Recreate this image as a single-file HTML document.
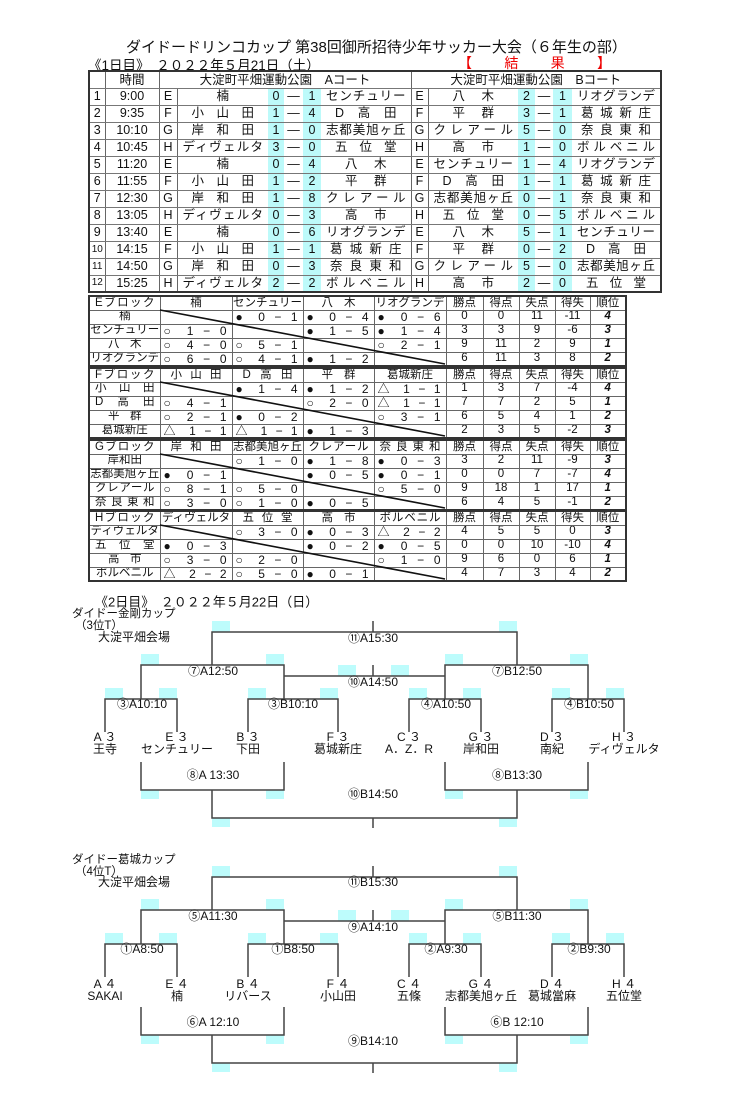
<!DOCTYPE html>
<html><head><meta charset="utf-8">
<style>
*{margin:0;padding:0;box-sizing:border-box}
body{width:751px;height:1111px;background:#fff;position:relative;overflow:hidden;font-family:"Liberation Sans","Noto Sans CJK JP",sans-serif;color:#111}
.a{position:absolute;white-space:nowrap}
table{position:absolute;border-collapse:collapse;table-layout:fixed;border:2px solid #333}
td{font-size:12.5px;line-height:1;text-align:center;white-space:nowrap;overflow:hidden;padding:0;border-bottom:1px solid #777}
.s td{height:17px}
.bl{border-left:1px solid #666}
.c{background:#bdfafa}
.d{text-align:justify;text-align-last:justify}
.p2{padding:0 24px}.p3{padding:0 14px}.p4{padding:0 9px}.p6{padding:0 5px}
.b td{height:14px;font-size:11.5px;border:1px solid #666}
.b td.p2{padding:0 18px}.b td.p3{padding:0 10px}.b td.p4{padding:0 5px}
.b td.r{padding:0 5px 0 3px;text-align:justify;text-align-last:justify;white-space:normal;font-size:12px}
.rk{font-weight:bold;font-style:italic;font-size:13px}
svg{position:absolute;left:0;top:0}
</style></head><body>
<div class="a" style="left:126px;top:36px;font-size:15px">ダイドードリンコカップ 第38回御所招待少年サッカー大会（６年生の部）</div>
<div class="a" style="left:88px;top:54px;font-size:13.5px">《1日目》　２０２２年５月21日（土）</div>
<div class="a" style="left:458px;top:53px;font-size:14px;color:#e00;width:153px;display:flex;justify-content:space-between"><span>【</span><span>結</span><span>果</span><span>】</span></div>

<table class="s" style="left:88px;top:70px;width:572px">
<colgroup><col style="width:16px"><col style="width:54px"><col style="width:18px"><col style="width:91px"><col style="width:16px"><col style="width:19px"><col style="width:18px"><col style="width:90px"><col style="width:17px"><col style="width:90px"><col style="width:17px"><col style="width:18px"><col style="width:19px"><col style="width:89px"></colgroup>
<tr><td></td><td class="bl">時間</td><td class="bl" colspan="6">大淀町平畑運動公園　Aコート</td><td class="bl" colspan="6">大淀町平畑運動公園　Bコート</td></tr>
<tr><td>1</td><td class="bl">9:00</td><td class="bl">E</td><td class="bl">楠</td><td class="c">0</td><td>—</td><td class="c">1</td><td class="d p6">センチュリー</td><td class="bl">E</td><td class="bl d p2">八木</td><td class="c">2</td><td>—</td><td class="c">1</td><td class="d p6">リオグランデ</td></tr>
<tr><td>2</td><td class="bl">9:35</td><td class="bl">F</td><td class="bl d p3">小山田</td><td class="c">1</td><td>—</td><td class="c">4</td><td class="d p3">D高田</td><td class="bl">F</td><td class="bl d p2">平群</td><td class="c">3</td><td>—</td><td class="c">1</td><td class="d p4">葛城新庄</td></tr>
<tr><td>3</td><td class="bl">10:10</td><td class="bl">G</td><td class="bl d p3">岸和田</td><td class="c">1</td><td>—</td><td class="c">0</td><td class="d p6">志都美旭ヶ丘</td><td class="bl">G</td><td class="bl d p6">クレアール</td><td class="c">5</td><td>—</td><td class="c">0</td><td class="d p4">奈良東和</td></tr>
<tr><td>4</td><td class="bl">10:45</td><td class="bl">H</td><td class="bl d p6">ディヴェルタ</td><td class="c">3</td><td>—</td><td class="c">0</td><td class="d p3">五位堂</td><td class="bl">H</td><td class="bl d p2">高市</td><td class="c">1</td><td>—</td><td class="c">0</td><td class="d p6">ボルベニル</td></tr>
<tr><td>5</td><td class="bl">11:20</td><td class="bl">E</td><td class="bl">楠</td><td class="c">0</td><td>—</td><td class="c">4</td><td class="d p2">八木</td><td class="bl">E</td><td class="bl d p6">センチュリー</td><td class="c">1</td><td>—</td><td class="c">4</td><td class="d p6">リオグランデ</td></tr>
<tr><td>6</td><td class="bl">11:55</td><td class="bl">F</td><td class="bl d p3">小山田</td><td class="c">1</td><td>—</td><td class="c">2</td><td class="d p2">平群</td><td class="bl">F</td><td class="bl d p3">D高田</td><td class="c">1</td><td>—</td><td class="c">1</td><td class="d p4">葛城新庄</td></tr>
<tr><td>7</td><td class="bl">12:30</td><td class="bl">G</td><td class="bl d p3">岸和田</td><td class="c">1</td><td>—</td><td class="c">8</td><td class="d p6">クレアール</td><td class="bl">G</td><td class="bl d p6">志都美旭ヶ丘</td><td class="c">0</td><td>—</td><td class="c">1</td><td class="d p4">奈良東和</td></tr>
<tr><td>8</td><td class="bl">13:05</td><td class="bl">H</td><td class="bl d p6">ディヴェルタ</td><td class="c">0</td><td>—</td><td class="c">3</td><td class="d p2">高市</td><td class="bl">H</td><td class="bl d p3">五位堂</td><td class="c">0</td><td>—</td><td class="c">5</td><td class="d p6">ボルベニル</td></tr>
<tr><td>9</td><td class="bl">13:40</td><td class="bl">E</td><td class="bl">楠</td><td class="c">0</td><td>—</td><td class="c">6</td><td class="d p6">リオグランデ</td><td class="bl">E</td><td class="bl d p2">八木</td><td class="c">5</td><td>—</td><td class="c">1</td><td class="d p6">センチュリー</td></tr>
<tr><td style="font-size:10px">10</td><td class="bl">14:15</td><td class="bl">F</td><td class="bl d p3">小山田</td><td class="c">1</td><td>—</td><td class="c">1</td><td class="d p4">葛城新庄</td><td class="bl">F</td><td class="bl d p2">平群</td><td class="c">0</td><td>—</td><td class="c">2</td><td class="d p3">D高田</td></tr>
<tr><td style="font-size:10px">11</td><td class="bl">14:50</td><td class="bl">G</td><td class="bl d p3">岸和田</td><td class="c">0</td><td>—</td><td class="c">3</td><td class="d p4">奈良東和</td><td class="bl">G</td><td class="bl d p6">クレアール</td><td class="c">5</td><td>—</td><td class="c">0</td><td class="d p6">志都美旭ヶ丘</td></tr>
<tr><td style="font-size:10px">12</td><td class="bl">15:25</td><td class="bl">H</td><td class="bl d p6">ディヴェルタ</td><td class="c">2</td><td>—</td><td class="c">2</td><td class="d p6">ボルベニル</td><td class="bl">H</td><td class="bl d p2">高市</td><td class="c">2</td><td>—</td><td class="c">0</td><td class="d p3">五位堂</td></tr>
</table>

<table class="b" style="left:88px;top:295px;width:537px">
<colgroup><col style="width:71px"><col style="width:72px"><col style="width:71px"><col style="width:71px"><col style="width:72px"><col style="width:37px"><col style="width:36px"><col style="width:36px"><col style="width:35px"><col style="width:36px"></colgroup>
<tr><td class="d p4">Eブロック</td><td>楠</td><td>センチュリー</td><td class="d p2">八木</td><td>リオグランデ</td><td>勝点</td><td>得点</td><td>失点</td><td>得失</td><td>順位</td></tr>
<tr><td>楠</td><td></td><td class="r">● 0 − 1</td><td class="r">● 0 − 4</td><td class="r">● 0 − 6</td><td>0</td><td>0</td><td>11</td><td>-11</td><td class="rk">4</td></tr>
<tr><td>センチュリー</td><td class="r">○ 1 − 0</td><td></td><td class="r">● 1 − 5</td><td class="r">● 1 − 4</td><td>3</td><td>3</td><td>9</td><td>-6</td><td class="rk">3</td></tr>
<tr><td class="d p2">八木</td><td class="r">○ 4 − 0</td><td class="r">○ 5 − 1</td><td></td><td class="r">○ 2 − 1</td><td>9</td><td>11</td><td>2</td><td>9</td><td class="rk">1</td></tr>
<tr><td>リオグランデ</td><td class="r">○ 6 − 0</td><td class="r">○ 4 − 1</td><td class="r">● 1 − 2</td><td></td><td>6</td><td>11</td><td>3</td><td>8</td><td class="rk">2</td></tr>
</table>
<table class="b" style="left:88px;top:367px;width:537px">
<colgroup><col style="width:71px"><col style="width:72px"><col style="width:71px"><col style="width:71px"><col style="width:72px"><col style="width:37px"><col style="width:36px"><col style="width:36px"><col style="width:35px"><col style="width:36px"></colgroup>
<tr><td class="d p4">Fブロック</td><td class="d p3">小山田</td><td class="d p3">D高田</td><td class="d p2">平群</td><td>葛城新庄</td><td>勝点</td><td>得点</td><td>失点</td><td>得失</td><td>順位</td></tr>
<tr><td class="d p4">小山田</td><td></td><td class="r">● 1 − 4</td><td class="r">● 1 − 2</td><td class="r">△ 1 − 1</td><td>1</td><td>3</td><td>7</td><td>-4</td><td class="rk">4</td></tr>
<tr><td class="d p4">D高田</td><td class="r">○ 4 − 1</td><td></td><td class="r">○ 2 − 0</td><td class="r">△ 1 − 1</td><td>7</td><td>7</td><td>2</td><td>5</td><td class="rk">1</td></tr>
<tr><td class="d p2">平群</td><td class="r">○ 2 − 1</td><td class="r">● 0 − 2</td><td></td><td class="r">○ 3 − 1</td><td>6</td><td>5</td><td>4</td><td>1</td><td class="rk">2</td></tr>
<tr><td>葛城新庄</td><td class="r">△ 1 − 1</td><td class="r">△ 1 − 1</td><td class="r">● 1 − 3</td><td></td><td>2</td><td>3</td><td>5</td><td>-2</td><td class="rk">3</td></tr>
</table>
<table class="b" style="left:88px;top:439px;width:537px">
<colgroup><col style="width:71px"><col style="width:72px"><col style="width:71px"><col style="width:71px"><col style="width:72px"><col style="width:37px"><col style="width:36px"><col style="width:36px"><col style="width:35px"><col style="width:36px"></colgroup>
<tr><td class="d p4">Gブロック</td><td class="d p3">岸和田</td><td>志都美旭ヶ丘</td><td class="d p4">クレアール</td><td class="d p4">奈良東和</td><td>勝点</td><td>得点</td><td>失点</td><td>得失</td><td>順位</td></tr>
<tr><td>岸和田</td><td></td><td class="r">○ 1 − 0</td><td class="r">● 1 − 8</td><td class="r">● 0 − 3</td><td>3</td><td>2</td><td>11</td><td>-9</td><td class="rk">3</td></tr>
<tr><td>志都美旭ヶ丘</td><td class="r">● 0 − 1</td><td></td><td class="r">● 0 − 5</td><td class="r">● 0 − 1</td><td>0</td><td>0</td><td>7</td><td>-7</td><td class="rk">4</td></tr>
<tr><td class="d p4">クレアール</td><td class="r">○ 8 − 1</td><td class="r">○ 5 − 0</td><td></td><td class="r">○ 5 − 0</td><td>9</td><td>18</td><td>1</td><td>17</td><td class="rk">1</td></tr>
<tr><td class="d p4">奈良東和</td><td class="r">○ 3 − 0</td><td class="r">○ 1 − 0</td><td class="r">● 0 − 5</td><td></td><td>6</td><td>4</td><td>5</td><td>-1</td><td class="rk">2</td></tr>
</table>
<table class="b" style="left:88px;top:510px;width:537px">
<colgroup><col style="width:71px"><col style="width:72px"><col style="width:71px"><col style="width:71px"><col style="width:72px"><col style="width:37px"><col style="width:36px"><col style="width:36px"><col style="width:35px"><col style="width:36px"></colgroup>
<tr><td class="d p4">Hブロック</td><td>ディヴェルタ</td><td class="d p3">五位堂</td><td class="d p2">高市</td><td class="d p4">ボルベニル</td><td>勝点</td><td>得点</td><td>失点</td><td>得失</td><td>順位</td></tr>
<tr><td>ディヴェルタ</td><td></td><td class="r">○ 3 − 0</td><td class="r">● 0 − 3</td><td class="r">△ 2 − 2</td><td>4</td><td>5</td><td>5</td><td>0</td><td class="rk">3</td></tr>
<tr><td class="d p4">五位堂</td><td class="r">● 0 − 3</td><td></td><td class="r">● 0 − 2</td><td class="r">● 0 − 5</td><td>0</td><td>0</td><td>10</td><td>-10</td><td class="rk">4</td></tr>
<tr><td class="d p2">高市</td><td class="r">○ 3 − 0</td><td class="r">○ 2 − 0</td><td></td><td class="r">○ 1 − 0</td><td>9</td><td>6</td><td>0</td><td>6</td><td class="rk">1</td></tr>
<tr><td>ボルベニル</td><td class="r">△ 2 − 2</td><td class="r">○ 5 − 0</td><td class="r">● 0 − 1</td><td></td><td>4</td><td>7</td><td>3</td><td>4</td><td class="rk">2</td></tr>
</table>

<svg width="751" height="1111" viewBox="0 0 751 1111" font-family="Liberation Sans, Noto Sans CJK JP, sans-serif" font-size="12" fill="#111">
<g stroke="#111" stroke-width="1.6">
<line x1="160" y1="310" x2="445" y2="364"/>
<line x1="160" y1="382" x2="445" y2="436"/>
<line x1="160" y1="454" x2="445" y2="508"/>
<line x1="160" y1="525" x2="445" y2="579"/>
</g>
<defs>
<g id="br">
<g fill="#bdfcfc">
<rect x="212" y="621" width="18" height="11"/><rect x="499" y="621" width="18" height="11"/>
<rect x="141" y="654" width="18" height="11"/><rect x="266" y="654" width="18" height="11"/>
<rect x="445" y="654" width="18" height="11"/><rect x="570" y="654" width="18" height="11"/>
<rect x="338" y="665" width="18" height="11"/><rect x="391" y="665" width="18" height="11"/>
<rect x="105" y="688" width="18" height="11"/><rect x="159" y="688" width="18" height="11"/>
<rect x="248" y="688" width="18" height="11"/><rect x="320" y="688" width="18" height="11"/>
<rect x="409" y="688" width="18" height="11"/><rect x="463" y="688" width="18" height="11"/>
<rect x="552" y="688" width="18" height="11"/><rect x="606" y="688" width="18" height="11"/>
<rect x="141" y="790" width="18" height="9"/><rect x="266" y="790" width="18" height="9"/>
<rect x="445" y="790" width="18" height="9"/><rect x="570" y="790" width="18" height="9"/>
<rect x="212" y="818" width="18" height="9"/><rect x="499" y="818" width="18" height="9"/>
</g>
<path fill="none" stroke="#444" stroke-width="1.5" d="M212 665V632H517V665M373 621V632M141 699V665H284V699M445 699V665H588V699M284 676H445M373 665V676M105 732V699H177V732M248 732V699H338V732M409 732V699H481V732M552 732V699H624V732M141 762V790H284V762M445 762V790H588V762M212 790V818H517V790M373 818V828"/>
</g>
</defs>
<use href="#br"/>
<use href="#br" transform="translate(0,245)"/>
<g text-anchor="middle" dominant-baseline="central">
<text x="373" y="638">⑪A15:30</text><text x="213" y="671">⑦A12:50</text><text x="517" y="671">⑦B12:50</text>
<text x="373" y="682">⑩A14:50</text>
<text x="142" y="704">③A10:10</text><text x="293" y="704">③B10:10</text><text x="446" y="704">④A10:50</text><text x="589" y="704">④B10:50</text>
<text x="105" y="737">A ３</text><text x="177" y="737">E ３</text><text x="248" y="737">B ３</text><text x="338" y="737">F ３</text>
<text x="409" y="737">C ３</text><text x="481" y="737">G ３</text><text x="552" y="737">D ３</text><text x="624" y="737">H ３</text>
<text x="105" y="749">王寺</text><text x="177" y="749">センチュリー</text><text x="248" y="749">下田</text><text x="338" y="749">葛城新庄</text>
<text x="409" y="749">A．Z．R</text><text x="481" y="749">岸和田</text><text x="552" y="749">南紀</text><text x="624" y="749">ディヴェルタ</text>
<text x="213" y="775">⑧A 13:30</text><text x="517" y="775">⑧B13:30</text><text x="373" y="794">⑩B14:50</text>

<text x="373" y="882">⑪B15:30</text><text x="213" y="916">⑤A11:30</text><text x="517" y="916">⑤B11:30</text>
<text x="373" y="927">⑨A14:10</text>
<text x="142" y="949">①A8:50</text><text x="293" y="949">①B8:50</text><text x="446" y="949">②A9:30</text><text x="589" y="949">②B9:30</text>
<text x="105" y="984">A ４</text><text x="177" y="984">E ４</text><text x="248" y="984">B ４</text><text x="338" y="984">F ４</text>
<text x="409" y="984">C ４</text><text x="481" y="984">G ４</text><text x="552" y="984">D ４</text><text x="624" y="984">H ４</text>
<text x="105" y="996">SAKAI</text><text x="177" y="996">楠</text><text x="248" y="996">リバース</text><text x="338" y="996">小山田</text>
<text x="409" y="996">五條</text><text x="481" y="996">志都美旭ヶ丘</text><text x="552" y="996">葛城當麻</text><text x="624" y="996">五位堂</text>
<text x="213" y="1022">⑥A 12:10</text><text x="517" y="1022">⑥B 12:10</text><text x="373" y="1041">⑨B14:10</text>
</g>
<g dominant-baseline="central">
<text x="95" y="602" font-size="13">《2日目》　２０２２年５月22日（日）</text>
<text x="72" y="614" font-size="11.5">ダイドー金剛カップ</text>
<text x="75" y="626" font-size="11.5">（3位T）</text>
<text x="98" y="637" font-size="12">大淀平畑会場</text>
<text x="72" y="860" font-size="11.5">ダイドー葛城カップ</text>
<text x="75" y="872" font-size="11.5">（4位T）</text>
<text x="98" y="882" font-size="12">大淀平畑会場</text>
</g>
</svg>
</body></html>
